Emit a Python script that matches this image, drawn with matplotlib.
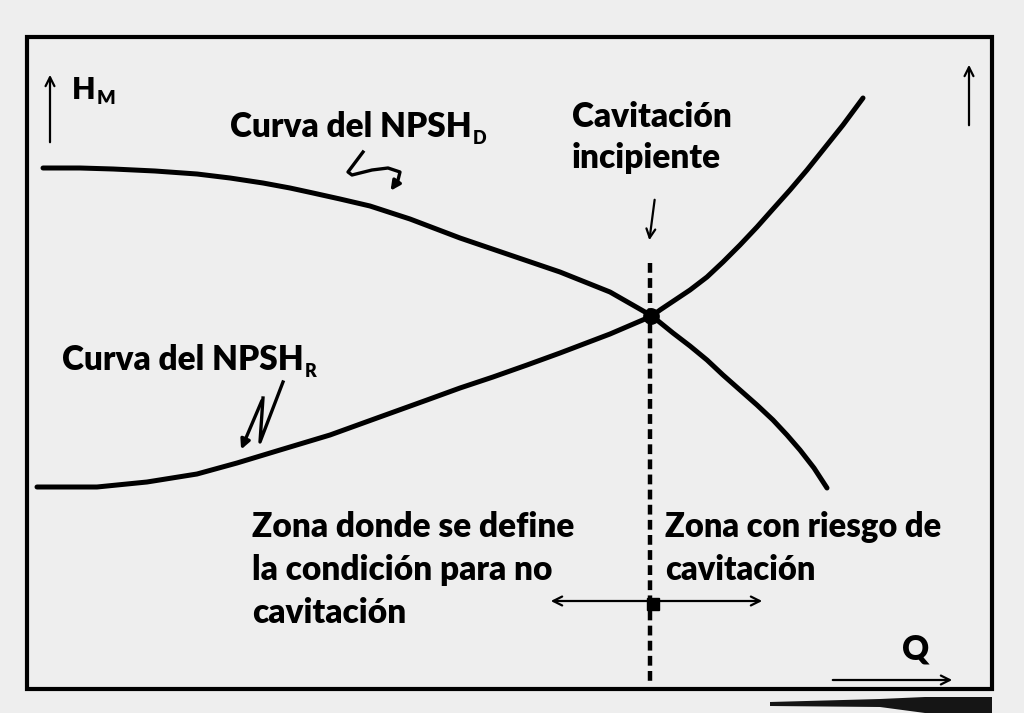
import matplotlib
matplotlib.use("Agg")
import matplotlib.pyplot as plt
from matplotlib.patches import Rectangle, Polygon

plt.rcParams['font.family'] = ['Lato', 'DejaVu Sans']
plt.rcParams['font.weight'] = 'heavy'

# curvas (coordenadas de la imagen, y hacia abajo)
npsh_d_x = [43, 80, 113, 155, 197, 230, 263, 290, 313, 340, 370, 410, 460, 510, 560, 610, 652,
            673, 690, 707, 723, 740, 757, 773, 787, 800, 814, 827]
npsh_d_y = [168, 168, 169, 171, 174, 178, 183, 188, 193, 199, 206, 219, 238, 255, 272, 292, 316,
            333, 346, 360, 375, 390, 405, 420, 435, 450, 468, 488]

npsh_r_x = [37, 97, 147, 197, 237, 280, 330, 377, 427, 460, 493, 527, 560, 610, 652,
            660, 675, 690, 707, 723, 740, 757, 773, 790, 807, 823, 843, 863]
npsh_r_y = [487, 487, 482, 474, 463, 450, 435, 418, 400, 388, 377, 365, 353, 334, 316,
            310, 300, 290, 277, 262, 245, 227, 209, 190, 170, 150, 125, 98]

cruce = (651, 316)
q_cavitacion = 650

# flechitas dibujadas a mano
garabato_d_x = [363, 348, 352, 372, 388, 400, 398, 389]
garabato_d_y = [152, 172, 175, 170, 168, 172, 180, 193]
garabato_r_x = [283, 260, 263, 240]
garabato_r_y = [382, 442, 398, 452]

texto_zona_izq = ["Zona donde se define", "la condición para no", "cavitación"]
texto_zona_der = ["Zona con riesgo de", "cavitación"]

fig = plt.figure(figsize=(10.24, 7.13), dpi=100)
fig.patch.set_facecolor('#eeeeee')
ax = fig.add_axes([0, 0, 1, 1])
ax.set_xlim(0, 1024)
ax.set_ylim(713, 0)
ax.axis('off')

# marco
ax.add_patch(Rectangle((27, 37), 965, 652, fill=False, lw=3, ec='black'))
# sombra del borde de la hoja
ax.add_patch(Polygon([(770, 702), (880, 699), (925, 697), (992, 697), (992, 713),
                      (925, 713), (880, 707), (770, 706)], closed=True, fc='#151515', ec='none'))

ax.plot(npsh_d_x, npsh_d_y, color='black', lw=3.6, solid_capstyle='round', solid_joinstyle='round')
ax.plot(npsh_r_x, npsh_r_y, color='black', lw=3.6, solid_capstyle='round', solid_joinstyle='round')
ax.plot([cruce[0]], [cruce[1]], 'o', color='black', ms=11)
ax.plot([q_cavitacion, q_cavitacion], [263, 686], color='black', lw=3.2, dashes=(2.2, 1.2))

arrow = dict(arrowstyle='->', color='black', lw=1.6, mutation_scale=16)
# ejes
ax.annotate('', xy=(50, 72), xytext=(50, 145), arrowprops=arrow)
ax.annotate('', xy=(969, 62), xytext=(969, 128), arrowprops=arrow)
ax.annotate('', xy=(955, 680), xytext=(830, 680), arrowprops=arrow)
# zonas
ax.annotate('', xy=(548, 601), xytext=(765, 601),
            arrowprops=dict(arrowstyle='<->', color='black', lw=1.6, mutation_scale=16))
ax.plot([653], [604], 's', color='black', ms=8)
# cavitacion incipiente
ax.annotate('', xy=(649, 243), xytext=(655, 197), arrowprops=arrow)

# garabatos
ax.plot(garabato_d_x[:-1], garabato_d_y[:-1], color='black', lw=2.4, solid_joinstyle='round')
ax.annotate('', xy=(garabato_d_x[-1], garabato_d_y[-1]),
            xytext=(garabato_d_x[-2], garabato_d_y[-2]),
            arrowprops=dict(arrowstyle='-|>', color='black', lw=2.4, mutation_scale=14))
ax.plot(garabato_r_x[:-1], garabato_r_y[:-1], color='black', lw=2.4, solid_joinstyle='round')
ax.annotate('', xy=(garabato_r_x[-1], garabato_r_y[-1]),
            xytext=(garabato_r_x[-2], garabato_r_y[-2]),
            arrowprops=dict(arrowstyle='-|>', color='black', lw=2.4, mutation_scale=14))

fs = 24
t = ax.text(72, 99, 'H', fontsize=22, va='baseline', ha='left')
ax.annotate('M', xy=(1, 0), xycoords=t, xytext=(1, -2), textcoords='offset points',
            fontsize=14, va='bottom', ha='left')

t = ax.text(230, 137, 'Curva del NPSH', fontsize=fs, va='baseline', ha='left')
ax.annotate('D', xy=(1, 0), xycoords=t, xytext=(1, -3), textcoords='offset points',
            fontsize=13, va='bottom', ha='left')
t = ax.text(62, 370, 'Curva del NPSH', fontsize=fs, va='baseline', ha='left')
ax.annotate('R', xy=(1, 0), xycoords=t, xytext=(1, -3), textcoords='offset points',
            fontsize=13, va='bottom', ha='left')

ax.text(572, 127, 'Cavitación', fontsize=fs, va='baseline', ha='left')
ax.text(572, 168, 'incipiente', fontsize=fs, va='baseline', ha='left')

for i, linea in enumerate(texto_zona_izq):
    ax.text(252, 537 + 43 * i, linea, fontsize=fs, va='baseline', ha='left')
for i, linea in enumerate(texto_zona_der):
    ax.text(665, 537 + 43 * i, linea, fontsize=23.5, va='baseline', ha='left')

ax.text(902, 660, 'Q', fontsize=fs, va='baseline', ha='left')

plt.savefig('out.png', dpi=100, facecolor=fig.get_facecolor())
plt.close()
